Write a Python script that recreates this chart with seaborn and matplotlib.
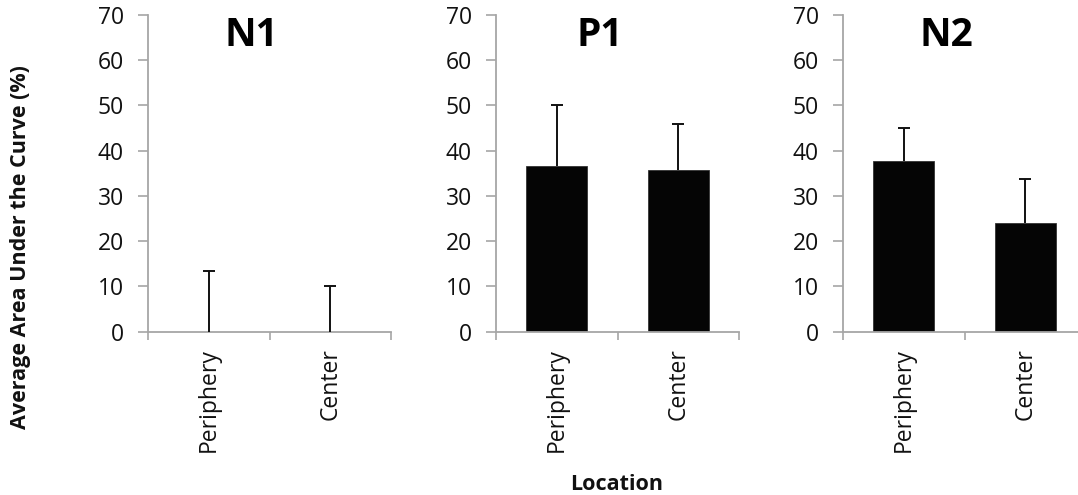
import matplotlib
matplotlib.use("Agg")
import matplotlib.pyplot as plt
import seaborn as sns
import pandas as pd
import numpy as np

# ---- data ----
panels = ["N1", "P1", "N2"]
locations = ["Periphery", "Center"]
n1_means = [0.0, 0.0]
n1_err = [13.4, 10.2]
p1_means = [36.7, 35.7]
p1_err = [13.5, 10.1]
n2_means = [37.8, 24.1]
n2_err = [7.2, 9.6]
y_ticks = [0, 10, 20, 30, 40, 50, 60, 70]

means = {"N1": n1_means, "P1": p1_means, "N2": n2_means}
errs = {"N1": n1_err, "P1": p1_err, "N2": n2_err}

sns.set_style("white")
plt.rcParams['font.family'] = ['Open Sans', 'DejaVu Sans']

fig = plt.figure(figsize=(10.78, 4.95), dpi=100)
W, H = 1078.0, 495.0
lefts = [148, 496, 843]
ax_w = 243
y0_px, y70_px = 331.7, 15.0

spine_col = "#a6a6a6"
tick_fs = 16.5
for name, lx in zip(panels, lefts):
    ax = fig.add_axes([lx / W, (H - y0_px) / H, ax_w / W, (y0_px - y70_px) / H])
    df = pd.DataFrame({"Location": locations, "Value": means[name]})
    sns.barplot(data=df, x="Location", y="Value", order=locations, color="#050505",
                width=0.5, errorbar=None, ax=ax, saturation=1, edgecolor="#333333", linewidth=0.6)
    eb = ax.errorbar(np.arange(len(locations)), means[name],
                     yerr=[np.zeros(len(locations)), errs[name]],
                     fmt="none", ecolor="#111111", elinewidth=1.4, capsize=4.3, capthick=1.4, zorder=5)
    eb[1][0].set_visible(False)
    ax.set_ylim(0, 70)
    ax.set_xlim(-0.5, 1.5)
    ax.set_yticks(y_ticks)
    ax.set_yticklabels([str(t) for t in y_ticks], fontsize=tick_fs, color="#111111")
    ax.set_xticks([-0.5, 0.5, 1.5])
    ax.set_xticklabels([])
    ax.set_xticks([0, 1], minor=True)
    ax.set_xticklabels(locations, minor=True, rotation=90, fontsize=tick_fs, color="#111111")
    ax.tick_params(axis="x", which="minor", length=0, pad=12)
    ax.tick_params(axis="x", which="major", direction="out", length=5.5, width=1.2, color=spine_col)
    ax.tick_params(axis="y", direction="out", length=7, width=1.2, color=spine_col, pad=10.5)
    ax.tick_params(left=True, bottom=True)
    for s in ["top", "right"]:
        ax.spines[s].set_visible(False)
    for s in ["left", "bottom"]:
        ax.spines[s].set_color(spine_col)
        ax.spines[s].set_linewidth(1.3)
    ax.set_xlabel("")
    ax.set_ylabel("")
    ax.text(0.427, 0.935, name, transform=ax.transAxes, ha="center", va="center",
            fontsize=28, fontweight="bold", color="black")

fig.text(21 / W, 1 - 247 / H, "Average Area Under the Curve (%)", rotation=90,
         ha="center", va="center", fontsize=15.5, fontweight="bold", color="#111111")
fig.text(617 / W, 1 - 484 / H, "Location", ha="center", va="center",
         fontsize=15.5, fontweight="bold", color="#111111")

fig.savefig("out.png", dpi=100)
